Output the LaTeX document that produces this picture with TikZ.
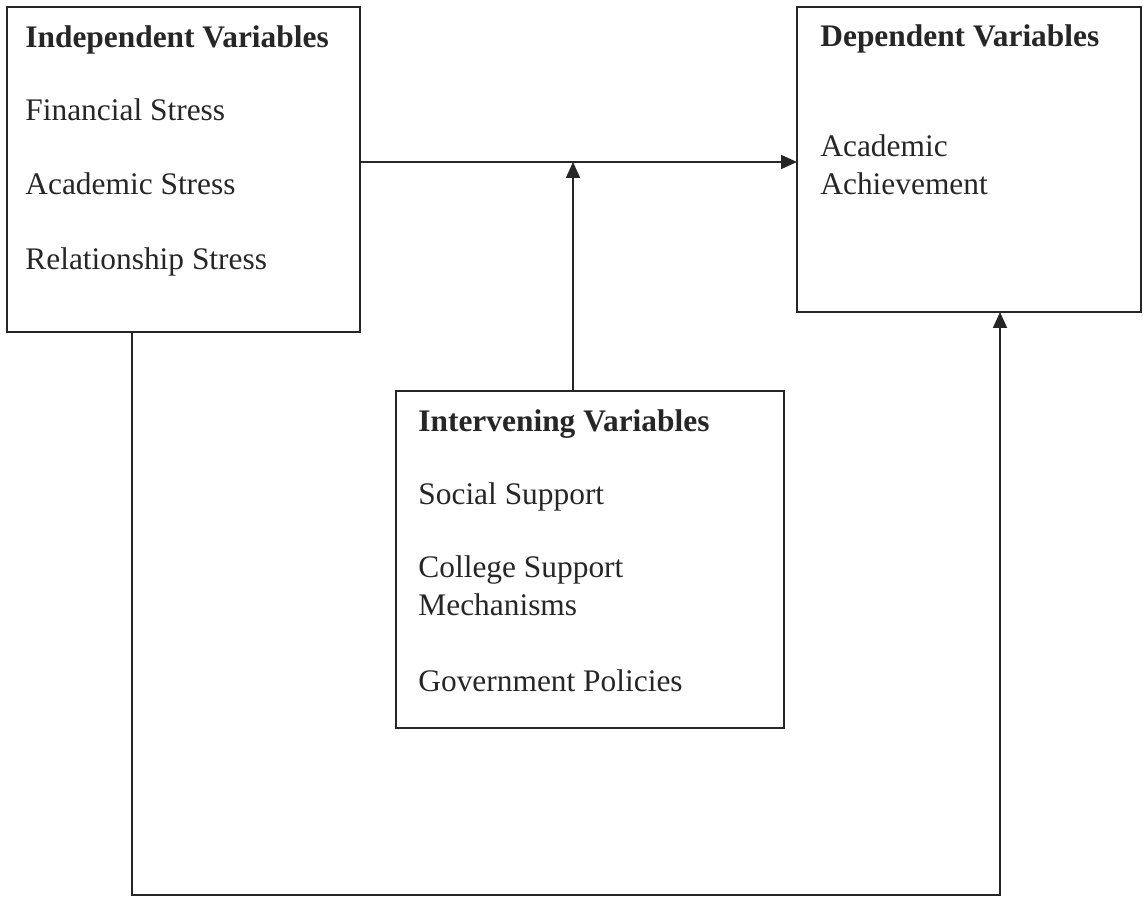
\documentclass[tikz,border=0pt]{standalone}
\usepackage{fontspec}
\setmainfont{Liberation Serif}
\usetikzlibrary{arrows.meta}
\begin{document}
\begin{tikzpicture}[x=0.5pt,y=-0.5pt,
  box/.style={draw=black!85, line width=0.9pt, inner sep=0pt, outer sep=0pt, rectangle},
  txt/.style={anchor=base west, inner sep=0pt, text=black!85, font=\fontsize{15.7}{19}\selectfont},
  head/.style={txt, font=\fontsize{15.7}{19}\selectfont\bfseries},
  link/.style={draw=black!85, line width=0.9pt},
  arr/.style={link, -{Triangle[length=8pt,width=7pt]}}]
\useasboundingbox (0,0) rectangle (1143,897);
% boxes
\node[box, minimum width=176.5pt, minimum height=162.5pt] (ind) at (183.5,169.5) {};
\node[box, minimum width=172pt, minimum height=152.5pt] (dep) at (969,159.5) {};
\node[box, minimum width=194pt, minimum height=168.5pt] (int) at (590,559.5) {};
% texts
\node[head] (indh) at (25,48) {Independent Variables};
\node[txt] (ind1) at (25,121) {Financial Stress};
\node[txt] (ind2) at (25,195) {Academic Stress};
\node[txt] (ind3) at (25,270) {Relationship Stress};
\node[head] (deph) at (820,47) {Dependent Variables};
\node[txt] (dep1) at (820,157) {Academic};
\node[txt] (dep2) at (820,195) {Achievement};
\node[head] (inth) at (418,431) {Intervening Variables};
\node[txt] (int1) at (418,504) {Social Support};
\node[txt] (int2) at (418,577) {College Support};
\node[txt] (int3) at (418,615) {Mechanisms};
\node[txt] (int4) at (418,691) {Government Policies};
% connectors
\coordinate (hline) at (0,162);
\coordinate (junc) at (573,162);
\coordinate (bl) at (132,895);
\coordinate (br) at (1000,895);
\draw[arr] (ind.east |- hline) -- (dep.west |- hline);
\draw[arr] (int.north -| junc) -- (junc);
\draw[arr] (ind.south -| bl) -- (bl) -- (br) -- (dep.south -| br);
\end{tikzpicture}
\end{document}
